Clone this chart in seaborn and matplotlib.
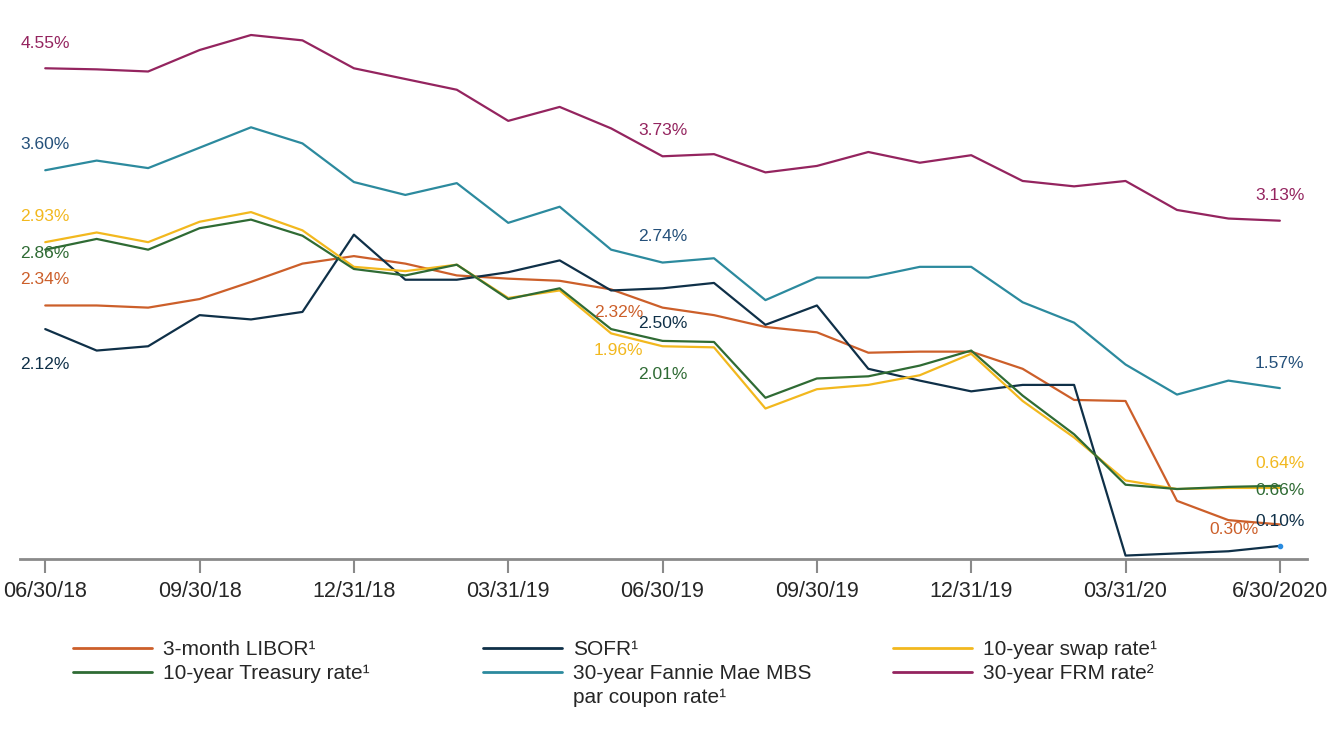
import numpy as np
import pandas as pd
import matplotlib.pyplot as plt
import seaborn as sns
from matplotlib.lines import Line2D

# month-end observations, 06/30/18 .. 06/30/20
months = pd.date_range("2018-06-30", "2020-06-30", freq="ME")
tick_labels = ["06/30/18", "09/30/18", "12/31/18", "03/31/19", "06/30/19",
               "09/30/19", "12/31/19", "03/31/20", "6/30/2020"]

libor = [2.34, 2.34, 2.32, 2.40, 2.56, 2.73, 2.80, 2.73, 2.62, 2.59, 2.57, 2.49, 2.32,
         2.25, 2.14, 2.09, 1.90, 1.91, 1.91, 1.75, 1.46, 1.45, 0.52, 0.34, 0.30]
sofr = [2.12, 1.92, 1.96, 2.25, 2.21, 2.28, 3.00, 2.58, 2.58, 2.65, 2.76, 2.48, 2.50,
        2.55, 2.16, 2.34, 1.75, 1.64, 1.54, 1.60, 1.60, 0.01, 0.03, 0.05, 0.10]
swap = [2.93, 3.02, 2.93, 3.12, 3.21, 3.04, 2.70, 2.66, 2.72, 2.41, 2.48, 2.08, 1.96,
        1.95, 1.38, 1.56, 1.60, 1.69, 1.89, 1.45, 1.11, 0.71, 0.63, 0.64, 0.64]
treasury = [2.86, 2.96, 2.86, 3.06, 3.14, 2.99, 2.68, 2.62, 2.72, 2.40, 2.50, 2.12, 2.01,
            2.00, 1.48, 1.66, 1.68, 1.78, 1.92, 1.50, 1.14, 0.67, 0.63, 0.65, 0.66]
fannie = [3.60, 3.69, 3.62, 3.81, 4.00, 3.85, 3.49, 3.37, 3.48, 3.11, 3.26, 2.86, 2.74,
          2.78, 2.39, 2.60, 2.60, 2.70, 2.70, 2.37, 2.18, 1.79, 1.51, 1.64, 1.57]
frm = [4.55, 4.54, 4.52, 4.72, 4.86, 4.81, 4.55, 4.45, 4.35, 4.06, 4.19, 3.99, 3.73,
       3.75, 3.58, 3.64, 3.77, 3.67, 3.74, 3.50, 3.45, 3.50, 3.23, 3.15, 3.13]

series = {
    "3-month LIBOR¹": libor,
    "SOFR¹": sofr,
    "10-year swap rate¹": swap,
    "10-year Treasury rate¹": treasury,
    "30-year Fannie Mae MBS par coupon rate¹": fannie,
    "30-year FRM rate²": frm,
}
colors = {
    "3-month LIBOR¹": "#cc5f2a",
    "SOFR¹": "#0f3048",
    "10-year swap rate¹": "#f2b81e",
    "10-year Treasury rate¹": "#2f6b34",
    "30-year Fannie Mae MBS par coupon rate¹": "#2c8a9e",
    "30-year FRM rate²": "#94245f",
}
label_colors = dict(colors)
label_colors["30-year Fannie Mae MBS par coupon rate¹"] = "#24507a"

rows = []
for name, vals in series.items():
    for i, v in enumerate(vals):
        rows.append({"idx": i, "rate": v, "series": name})
df = pd.DataFrame(rows)

sns.set_style("white")
plt.rcParams["font.family"] = ["Liberation Sans", "DejaVu Sans"]

fig = plt.figure(figsize=(13.36, 7.4), dpi=100)
ax = fig.add_axes([0.015, 0.2446, 0.963, 0.7284])
sns.lineplot(data=df, x="idx", y="rate", hue="series", palette=colors,
             linewidth=1.6, legend=False, ax=ax)
# small dot at end of SOFR
ax.plot(len(sofr) - 1, sofr[-1], "o", color="#2a8ce0", markersize=3)

ax.set_xlim(-0.49, 24.52)
ax.set_ylim(-0.022, 5.0)
ax.set_xticks(range(0, 25, 3))
ax.set_xticklabels(tick_labels, fontsize=15.5)
ax.set_yticks([])
ax.set_xlabel("")
ax.set_ylabel("")
for s in ["top", "right", "left"]:
    ax.spines[s].set_visible(False)
ax.spines["bottom"].set_color("#8a8a8a")
ax.spines["bottom"].set_linewidth(2)
ax.tick_params(axis="x", bottom=True, direction="out", length=10, width=1.5,
               color="#8a8a8a", pad=6)

# value labels: (series, index, dx px, dy px)
labels = [
    ("30-year FRM rate²", 0, 0, 25), ("30-year Fannie Mae MBS par coupon rate¹", 0, 0, 26),
    ("10-year swap rate¹", 0, 0, 26), ("10-year Treasury rate¹", 0, 0, -4),
    ("3-month LIBOR¹", 0, 0, 26), ("SOFR¹", 0, 0, -35),
    ("30-year FRM rate²", 12, 0, 26), ("30-year Fannie Mae MBS par coupon rate¹", 12, 0, 26),
    ("3-month LIBOR¹", 12, -44, -5), ("SOFR¹", 12, 0, -35),
    ("10-year swap rate¹", 12, -44, -4), ("10-year Treasury rate¹", 12, 0, -34),
    ("30-year FRM rate²", 24, 0, 25), ("30-year Fannie Mae MBS par coupon rate¹", 24, 0, 25),
    ("10-year swap rate¹", 24, 0, 24), ("10-year Treasury rate¹", 24, 0, -5),
    ("3-month LIBOR¹", 24, -46, -5), ("SOFR¹", 24, 0, 24),
]
for name, i, dx, dy in labels:
    v = series[name][i]
    ax.annotate(f"{v:.2f}%", xy=(i, v), xytext=(dx, dy), textcoords="offset pixels",
                ha="center", va="center", fontsize=12.5, color=label_colors[name])

# legend in three fixed columns
cols = [
    [("3-month LIBOR¹", "3-month LIBOR¹"), ("10-year Treasury rate¹", "10-year Treasury rate¹")],
    [("SOFR¹", "SOFR¹"), ("30-year Fannie Mae MBS par coupon rate¹", "30-year Fannie Mae MBS"),
     (None, "par coupon rate¹")],
    [("10-year swap rate¹", "10-year swap rate¹"), ("30-year FRM rate²", "30-year FRM rate²")],
]
col_x = [83 / 1336, 493 / 1336, 903 / 1336]
for cx, entries in zip(col_x, cols):
    handles = [Line2D([], [], color=colors[k] if k else "none", linewidth=2) for k, _ in entries]
    texts = [t for _, t in entries]
    fig.legend(handles, texts, loc="upper left", bbox_to_anchor=(cx - 0.0075, 1 - 640 / 740),
               frameon=False, fontsize=15, handlelength=3.8, handletextpad=0.5,
               labelspacing=0.24, borderpad=0, borderaxespad=0)

fig.savefig("out.png", dpi=100)
